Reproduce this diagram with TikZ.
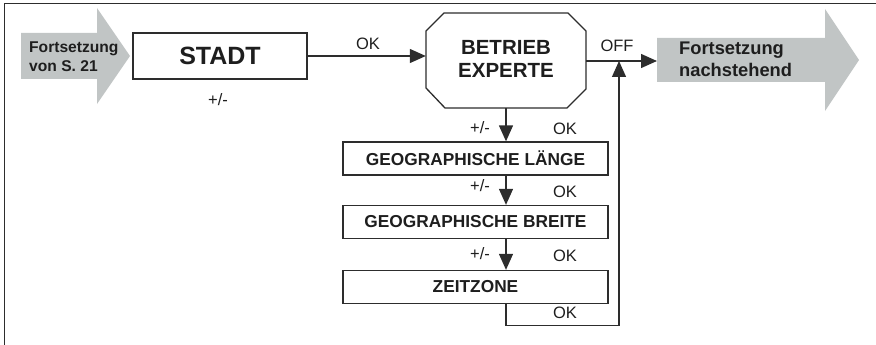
\documentclass[tikz,border=0pt]{standalone}
\usepackage{fontspec}
\setmainfont{Liberation Sans}
\usetikzlibrary{arrows.meta,calc}
\definecolor{ln}{RGB}{45,45,45}
\definecolor{tx}{RGB}{30,30,30}
\definecolor{ar}{RGB}{193,197,197}
\tikzset{
  lbl/.style={text=tx,inner sep=0pt,font=\fontsize{16.5}{18}\selectfont},
  boxtxt/.style={font=\fontsize{17.3}{19}\selectfont\bfseries},
  stepbox/.style={draw=ln,line width=1.3pt,minimum width=265pt,minimum height=33pt,inner sep=0pt,text=tx,boxtxt},
  arr/.style={draw=ln,line width=1.3pt,-{Triangle[length=16pt,width=14pt]}},
  bigarrow/.style={fill=ar,draw=none},
  arrtxt/.style={text=tx,inner sep=0pt,align=left,anchor=west},
}
\begin{document}
\begin{tikzpicture}[x=1pt,y=-1pt]
\useasboundingbox (0,0) rectangle (876,345);
% frame
\draw[ln,line width=1.4pt] (4.5,345) -- (4.5,3.5) -- (876,3.5);
% left big arrow
\fill[bigarrow] (21,33) -- (97,33) -- (97,8) -- (130,56) -- (97,104) -- (97,79) -- (21,79) -- cycle;
\node[arrtxt,font=\fontsize{15.6}{19}\selectfont\bfseries] (fs) at (29,56.5) {Fortsetzung\\von S. 21};
% right big arrow
\fill[bigarrow] (657,38) -- (825,38) -- (825,9) -- (859,60) -- (825,111) -- (825,82) -- (657,82) -- cycle;
\coordinate (rin) at (657,61);
\node[arrtxt,font=\fontsize{18.3}{22}\selectfont\bfseries] (fn) at (679,59.5) {Fortsetzung\\nachstehend};
% STADT
\node[draw=ln,line width=1.3pt,minimum width=174pt,minimum height=46pt,inner sep=0pt,text=tx,font=\fontsize{25}{27}\selectfont\bfseries] (stadt) at (220,56) {STADT};
\node[lbl] (pmstadt) at (218,100) {+/-};
% BETRIEB EXPERTE octagon
\node[minimum width=160pt,minimum height=95pt,inner sep=0pt] (be) at (506,60.5) {};
\draw[ln,line width=1.3pt] (444,13) -- (568,13) -- (586,31) -- (586,89) -- (567,108) -- (445,108) -- (426,88) -- (426,31) -- cycle;
\node[text=tx,align=center,font=\fontsize{20.5}{23}\selectfont\bfseries] (betxt) at (506,59) {BETRIEB\\EXPERTE};
% OK arrow STADT -> BE
\draw[arr] (stadt.east) -- (be.west |- stadt.east);
\node[lbl] (okt) at (368,44) {OK};
% OFF line
\coordinate (j) at (619,61);
\draw[arr] (be.east |- j) -- (rin);
\node[lbl] (off) at (617,46) {OFF};
% boxes
\node[stepbox] (geo1) at (475.5,158.5) {GEOGRAPHISCHE LÄNGE};
\node[stepbox] (geo2) at (475.5,222) {GEOGRAPHISCHE BREITE};
\node[stepbox] (zz) at (475.5,287) {ZEITZONE};
% down arrows
\draw[arr] (be.south) -- (geo1.north -| be.south);
\draw[arr] (geo1.south -| be.south) -- (geo2.north -| be.south);
\draw[arr] (geo2.south -| be.south) -- (zz.north -| be.south);
\node[lbl] (pm1) at (480,128) {+/-};
\node[lbl] (ok1) at (565,129) {OK};
\node[lbl] (pm2) at (480,186) {+/-};
\node[lbl] (ok2) at (565,192) {OK};
\node[lbl] (pm3) at (480,254) {+/-};
\node[lbl] (ok3) at (565,256) {OK};
% loop back
\coordinate (lb) at ($(zz.south -| be.south)+(0,21)$);
\draw[arr] (zz.south -| be.south) -- (lb) -| (j);
\node[lbl] (ok4) at (565,313) {OK};
\end{tikzpicture}
\end{document}
